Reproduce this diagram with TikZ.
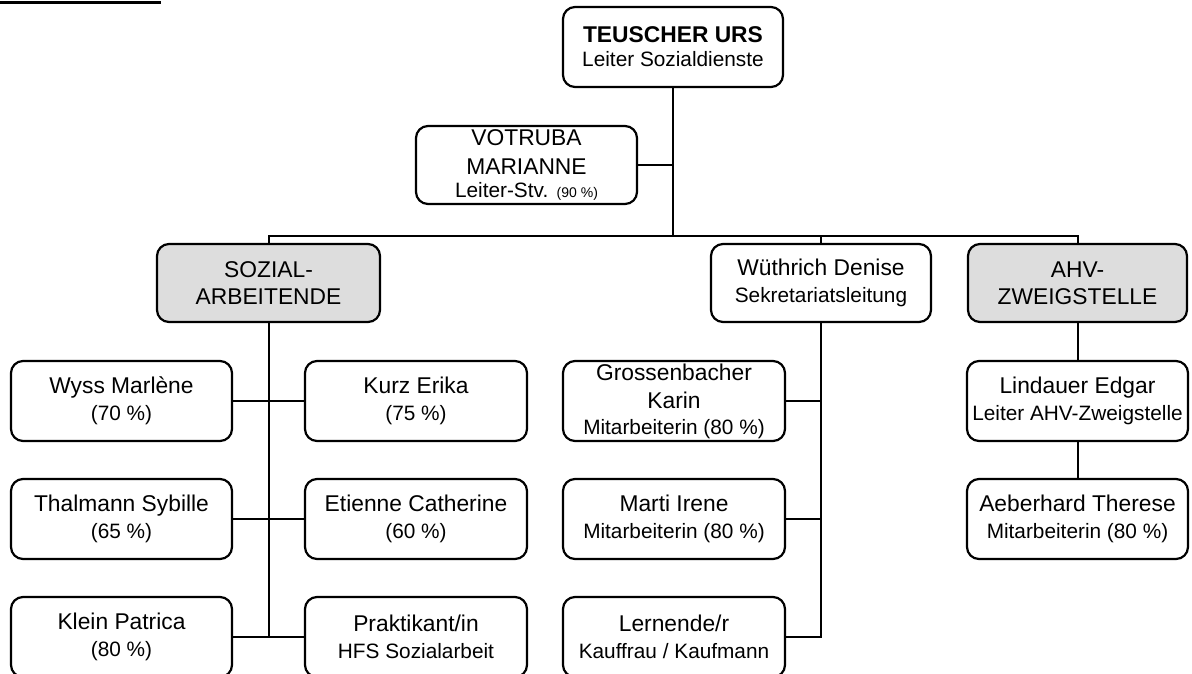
\documentclass[tikz,border=0pt]{standalone}
\usepackage{fontspec}
\setmainfont{Liberation Sans}
\newcommand\nmf{\fontsize{22.8}{27}\selectfont}
\newcommand\subf{\fontsize{20.8}{27}\selectfont}
\newcommand\tinyf{\fontsize{14}{27}\selectfont}
\definecolor{boxgray}{HTML}{DDDDDD}
\tikzset{
  orgbox/.style={draw=black, line width=2.2pt, rounded corners=12pt, inner sep=0pt,
    minimum width=221pt, minimum height=80pt, align=center, font=\nmf, fill=white},
  grpbox/.style={orgbox, minimum height=78pt, fill=boxgray},
  conn/.style={line width=2pt, black}
}
\begin{document}
\begin{tikzpicture}[x=1pt, y=-1pt]
\clip (0,0) rectangle (1192,673);
\fill[white] (0,0) rectangle (1192,673);
% top rule
\fill[black] (0,1) rectangle (161,4);

% nodes
\node[orgbox, minimum width=220pt] (top) at (673,47) {\textbf{TEUSCHER URS}\\[-3pt]{\subf Leiter Sozialdienste}};
\node[orgbox, minimum height=78pt] (votr) at (526.5,165) {VOTRUBA\\[2pt]MARIANNE\\[-4pt]{\subf Leiter-Stv.} {\tinyf (90 \%)}};

\node[grpbox, minimum width=223pt] (soz) at (268.5,283) {SOZIAL-\\ARBEITENDE};
\node[orgbox, minimum height=78pt, minimum width=220pt] (wue) at (821,283) {Wüthrich Denise\\{\subf Sekretariatsleitung}};
\node[grpbox, minimum width=219pt] (ahv) at (1077.5,283) {AHV-\\ZWEIGSTELLE};

\node[orgbox] (wyss)  at (121.5,401) {Wyss Marlène\\{\subf (70 \%)}};
\node[orgbox] (thal)  at (121.5,519) {Thalmann Sybille\\{\subf (65 \%)}};
\node[orgbox] (klein) at (121.5,637) {Klein Patrica\\{\subf (80 \%)}};

\node[orgbox, minimum width=222pt] (kurz) at (416,401) {Kurz Erika\\{\subf (75 \%)}};
\node[orgbox, minimum width=222pt] (etie) at (416,519) {Etienne Catherine\\{\subf (60 \%)}};
\node[orgbox, minimum width=222pt] (prak) at (416,637) {Praktikant/in\\{\subf HFS Sozialarbeit}};

\node[orgbox, minimum width=222pt] (gross) at (674,401) {Grossenbacher\\[1pt]Karin\\[-1pt]{\subf Mitarbeiterin (80 \%)}};
\node[orgbox, minimum width=222pt] (marti) at (674,519) {Marti Irene\\{\subf Mitarbeiterin (80 \%)}};
\node[orgbox, minimum width=222pt] (lern)  at (674,637) {Lernende/r\\{\subf Kauffrau / Kaufmann}};

\node[orgbox] (lind) at (1077.5,401) {Lindauer Edgar\\{\subf Leiter AHV-Zweigstelle}};
\node[orgbox] (aeb)  at (1077.5,519) {Aeberhard Therese\\{\subf Mitarbeiterin (80 \%)}};

% bus coordinates
\coordinate (bt) at (673,236);

% connectors
\draw[conn] (top.south) -- (bt);
\draw[conn] (votr.east) -- (votr.east -| bt);
\draw[conn] (soz.north) -- (soz.north |- bt) -- (ahv.north |- bt) -- (ahv.north);
\draw[conn] (wue.north) -- (wue.north |- bt);

\draw[conn] (soz.south) -- (soz.south |- klein.east);
\draw[conn] (wyss.east) -- (kurz.west);
\draw[conn] (thal.east) -- (etie.west);
\draw[conn] (klein.east) -- (prak.west);

\draw[conn] (wue.south) -- (wue.south |- lern.east) -- (lern.east);
\draw[conn] (gross.east) -- (gross.east -| wue.south);
\draw[conn] (marti.east) -- (marti.east -| wue.south);

\draw[conn] (ahv.south) -- (lind.north);
\draw[conn] (lind.south) -- (aeb.north);
\end{tikzpicture}
\end{document}
